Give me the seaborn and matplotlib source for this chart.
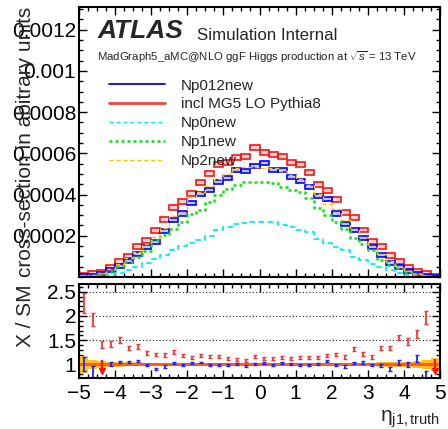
import matplotlib
matplotlib.use('Agg')
import matplotlib.pyplot as plt
import numpy as np
import pandas as pd
import seaborn as sns
from matplotlib.lines import Line2D
from matplotlib.ticker import MultipleLocator, FuncFormatter, FixedLocator

sns.set_theme(style='white')
plt.rcParams['font.family'] = ['Liberation Sans', 'DejaVu Sans']
plt.rcParams['mathtext.fontset'] = 'custom'
plt.rcParams['mathtext.rm'] = 'Liberation Sans'
plt.rcParams['mathtext.it'] = 'Liberation Sans:italic'
plt.rcParams['mathtext.bf'] = 'Liberation Sans:bold'

# binning of eta_j1
eta_lo, eta_hi, n_bins = -5.0, 5.0, 40

# normalised cross sections per bin
incl_mg5 = [6e-6, 1.5e-5, 2.4e-5, 4.7e-5, 7.7e-5, 1.02e-4, 1.47e-4, 1.79e-4, 2.24e-4, 2.79e-4,
            3.38e-4, 3.65e-4, 4.05e-4, 4.57e-4, 5.02e-4, 5.47e-4, 5.55e-4, 5.8e-4, 5.83e-4, 6.28e-4,
            6.04e-4, 5.96e-4, 5.86e-4, 5.54e-4, 5.47e-4, 5.07e-4, 4.49e-4, 4.21e-4, 3.78e-4, 3.12e-4,
            2.89e-4, 2.28e-4, 1.72e-4, 1.49e-4, 1.05e-4, 7.7e-5, 4.5e-5, 2.7e-5, 1.6e-5, 3e-6]
np012 = [2.7e-6, 6e-6, 1.5e-5, 3.3e-5, 5.3e-5, 7.8e-5, 1.12e-4, 1.45e-4, 1.71e-4, 2.24e-4,
         2.77e-4, 3.08e-4, 3.61e-4, 4.02e-4, 4.23e-4, 4.6e-4, 4.81e-4, 5.2e-4, 5.16e-4, 5.4e-4,
         5.54e-4, 5.19e-4, 5.21e-4, 4.86e-4, 4.66e-4, 4.35e-4, 3.93e-4, 3.77e-4, 3.08e-4, 2.57e-4,
         2.27e-4, 1.91e-4, 1.47e-4, 1.07e-4, 6.9e-5, 4.7e-5, 2.7e-5, 1.3e-5, 5e-6, 2e-6]
np0 = [1e-6, 2e-6, 5e-6, 1e-5, 2e-5, 3.5e-5, 5e-5, 6.8e-5, 8.5e-5, 1.05e-4,
       1.3e-4, 1.5e-4, 1.65e-4, 1.79e-4, 1.99e-4, 2.28e-4, 2.44e-4, 2.57e-4, 2.63e-4, 2.68e-4,
       2.68e-4, 2.65e-4, 2.52e-4, 2.44e-4, 2.28e-4, 2.2e-4, 1.85e-4, 1.66e-4, 1.47e-4, 1.31e-4,
       9.8e-5, 8.2e-5, 6.3e-5, 4.7e-5, 3.4e-5, 2.1e-5, 1e-5, 5e-6, 3e-6, 1e-6]
np1 = [2e-6, 6e-6, 1.4e-5, 2.6e-5, 5.3e-5, 7.4e-5, 9.5e-5, 1.27e-4, 1.79e-4, 2.03e-4,
       2.31e-4, 2.68e-4, 3.05e-4, 3.24e-4, 3.65e-4, 3.97e-4, 4.25e-4, 4.46e-4, 4.62e-4, 4.62e-4,
       4.62e-4, 4.54e-4, 4.37e-4, 4.21e-4, 4.13e-4, 3.81e-4, 3.33e-4, 3.0e-4, 2.68e-4, 2.31e-4,
       1.87e-4, 1.6e-4, 1.31e-4, 8.2e-5, 5.8e-5, 4.2e-5, 2.6e-5, 1.5e-5, 5e-6, 2e-6]
np2 = [3e-6, 8e-6, 1.8e-5, 3.8e-5, 6.3e-5, 9e-5, 1.2e-4, 1.6e-4, 1.95e-4, 2.4e-4,
       2.95e-4, 3.12e-4, 3.86e-4, 4.1e-4, 4.4e-4, 4.75e-4, 5.0e-4, 5.3e-4, 5.35e-4, 5.35e-4,
       5.3e-4, 5.3e-4, 5.15e-4, 4.95e-4, 4.75e-4, 4.45e-4, 4.05e-4, 3.55e-4, 3.3e-4, 2.75e-4,
       2.35e-4, 1.95e-4, 1.5e-4, 1.1e-4, 8e-5, 5e-5, 3e-5, 1.6e-5, 7e-6, 2e-6]
incl_err = 1.2e-5
np012_err = 1.0e-5

# ratio panel: X / SM
ratio_incl = [2.27, 1.93, 1.41, 1.42, 1.50, 1.34, 1.37, 1.23, 1.20, 1.20,
              1.25, 1.18, 1.14, 1.18, 1.17, 1.16, 1.13, 1.10, 1.09, 1.16,
              1.12, 1.13, 1.14, 1.13, 1.14, 1.15, 1.15, 1.19, 1.21, 1.15,
              1.31, 1.22, 1.16, 1.34, 1.34, 1.55, 1.47, 1.63, 1.97, np.nan]
ratio_incl_err = [0.20, 0.14, 0.08, 0.07, 0.06, 0.05, 0.05, 0.04, 0.035, 0.04,
                  0.04, 0.035, 0.035, 0.03, 0.03, 0.03, 0.03, 0.03, 0.03, 0.03,
                  0.03, 0.03, 0.03, 0.03, 0.03, 0.03, 0.03, 0.035, 0.035, 0.035,
                  0.04, 0.04, 0.04, 0.05, 0.05, 0.055, 0.07, 0.09, 0.13, np.nan]
ratio_np012 = [1.01, 0.84, np.nan, 1.01, 1.05, 1.05, 1.07, 0.99, 0.91, 0.96,
               1.03, 0.99, 1.02, 1.04, 0.99, 0.98, 0.98, 1.00, 0.97, 1.01,
               1.03, 0.99, 1.02, 1.00, 0.98, 0.99, 1.01, 1.07, 0.99, 0.96,
               1.03, 1.04, 0.99, 0.97, 0.91, 1.04, 1.00, 1.12, 0.79, np.nan]
ratio_np012_err = [0.15, 0.12, np.nan, 0.04, 0.03, 0.03, 0.03, 0.025, 0.025, 0.025,
                   0.02, 0.02, 0.02, 0.02, 0.02, 0.02, 0.02, 0.02, 0.02, 0.02,
                   0.02, 0.02, 0.02, 0.02, 0.02, 0.02, 0.02, 0.02, 0.02, 0.025,
                   0.025, 0.025, 0.025, 0.03, 0.04, 0.05, 0.06, 0.07, 0.07, np.nan]
sm_band = [0.17, 0.09, 0.08, 0.05, 0.045, 0.04, 0.04, 0.035, 0.035, 0.035,
           0.035, 0.03, 0.03, 0.03, 0.03, 0.03, 0.03, 0.03, 0.03, 0.03,
           0.03, 0.03, 0.03, 0.03, 0.03, 0.03, 0.03, 0.03, 0.03, 0.035,
           0.035, 0.035, 0.035, 0.045, 0.045, 0.05, 0.06, 0.08, 0.1, 0.13]
# off-scale points drawn as arrows
arrow_eta = [-4.375, 4.875]
arrow_top = [1.09, 1.11]
arrow_bot = [0.87, 0.87]

edges = np.linspace(eta_lo, eta_hi, n_bins + 1)
centers = 0.5 * (edges[1:] + edges[:-1])
width = edges[1] - edges[0]

df = pd.DataFrame({'eta': centers, 'incl': incl_mg5, 'np012': np012,
                   'np0': np0, 'np1': np1, 'np2': np2})

fig = plt.figure(figsize=(4.48, 4.29), dpi=100)
ax = fig.add_axes([79 / 448, 1 - 277 / 429, 361 / 448, 270 / 429])
ax2 = fig.add_axes([79 / 448, 1 - 378 / 429, 361 / 448, 94 / 429])

c_cyan, c_green, c_yel = '#00f0f0', '#10e010', '#ffc000'
hist_kw = dict(data=df, x='eta', bins=n_bins, binrange=(eta_lo, eta_hi),
               element='step', fill=False, ax=ax)
sns.histplot(weights='np0', color=c_cyan, linestyle=(0, (3, 2)), linewidth=1.3, **hist_kw)
sns.histplot(weights='np1', color=c_green, linestyle=(0, (1.2, 1.2)), linewidth=1.8, **hist_kw)
sns.histplot(weights='np2', color=c_yel, linestyle=(0, (3, 2)), linewidth=1.0, **hist_kw)

# error boxes
ax.bar(df['eta'], 2 * incl_err, bottom=df['incl'] - incl_err, width=width,
       facecolor=(1, 0.3, 0.3, 0.25), edgecolor='#ff1010', linewidth=1.2)
ax.bar(df['eta'], 2 * np012_err, bottom=df['np012'] - np012_err, width=width,
       facecolor=(0.2, 0.2, 1, 0.3), edgecolor='#0000ff', linewidth=1.2)

ax.set_xlim(eta_lo, eta_hi)
ax.set_ylim(0, 0.00131)
ax.set_xlabel('')
ax.set_ylabel('cross-section in abitrary units', fontsize=15, loc='top')
ax.yaxis.set_label_coords(-0.122, 1.0)
ax.yaxis.set_major_locator(FixedLocator([0.0002, 0.0004, 0.0006, 0.0008, 0.001, 0.0012]))
ax.yaxis.set_major_formatter(FuncFormatter(lambda v, p: '%g' % v))
ax.yaxis.set_minor_locator(MultipleLocator(0.00005))
ax.xaxis.set_major_locator(MultipleLocator(1))
ax.xaxis.set_minor_locator(MultipleLocator(0.25))
ax.tick_params(axis='x', labelbottom=False)

ax.text(0.05, 0.884, 'ATLAS', transform=ax.transAxes, fontsize=19,
        fontweight='bold', fontstyle='italic')
ax.text(0.327, 0.877, 'Simulation Internal', transform=ax.transAxes, fontsize=12.2)
ax.text(0.05, 0.80, r'MadGraph5_aMC@NLO ggF Higgs production at $\sqrt{s}$ = 13 TeV',
        transform=ax.transAxes, fontsize=8.2)

handles = [Line2D([], [], color='#0000ff', lw=1.3),
           Line2D([], [], color='#ff4040', lw=2.0),
           Line2D([], [], color=c_cyan, lw=1.0, ls=(0, (3, 2))),
           Line2D([], [], color=c_green, lw=1.8, ls=(0, (1.2, 1.2))),
           Line2D([], [], color=c_yel, lw=1.0, ls=(0, (3, 2)))]
labels = ['Np012new', 'incl MG5 LO Pythia8', 'Np0new', 'Np1new', 'Np2new']
ax.legend(handles, labels, loc='upper left', bbox_to_anchor=(0.083, 0.735),
          frameon=False, fontsize=11, handlelength=3.66, handletextpad=1.05,
          labelspacing=0.32, borderpad=0, borderaxespad=0)

# ratio panel
ax2.bar(centers, 2 * np.array(sm_band), bottom=1 - np.array(sm_band), width=width,
        color='#ffc020', linewidth=0)
ax2.axhline(1, color='#ff6010', lw=2.2)
ax2.errorbar(centers, ratio_np012, yerr=ratio_np012_err, fmt='none', ecolor='#2020ff',
             elinewidth=1.3, capsize=1.2)
ax2.errorbar(centers, ratio_incl, yerr=ratio_incl_err, fmt='none', ecolor='#ff3030',
             elinewidth=1.3, capsize=1.2)
ax2.vlines(arrow_eta, arrow_bot, arrow_top, color='#ff1010', lw=1.6)
ax2.plot(arrow_eta, arrow_bot, 'v', color='#ff1010', ms=4)

for yv in [1.5, 2.0, 2.5]:
    ax2.axhline(yv, color='#222222', lw=0.8, ls=(0, (1, 2)), zorder=0)

ax2.set_xlim(eta_lo, eta_hi)
ax2.set_ylim(0.72, 2.66)
ax2.set_ylabel('X / SM', fontsize=15, loc='top')
ax2.yaxis.set_label_coords(-0.122, 1.0)
ax2.set_xlabel(r'$\mathrm{\eta}_{\mathrm{j1,truth}}$', fontsize=15, loc='right', labelpad=4)
ax2.yaxis.set_major_locator(FixedLocator([1, 1.5, 2, 2.5]))
ax2.yaxis.set_major_formatter(FuncFormatter(lambda v, p: '%g' % v))
ax2.yaxis.set_minor_locator(MultipleLocator(0.1))
ax2.xaxis.set_major_locator(MultipleLocator(1))
ax2.xaxis.set_minor_locator(MultipleLocator(0.25))
ax2.xaxis.set_major_formatter(FuncFormatter(lambda v, p: ('%d' % round(v)).replace('-', '\u2212')))

for a in (ax, ax2):
    for s in a.spines.values():
        s.set_linewidth(1.5)
        s.set_color('black')
    a.tick_params(which='both', direction='in', top=True, right=True, bottom=True, left=True,
                  colors='black', labelsize=15, width=1.0)
    a.tick_params(which='major', length=6, pad=2)
    a.tick_params(which='minor', length=3)
ax2.tick_params(axis='x', pad=4)

fig.savefig('out.png', dpi=100)
